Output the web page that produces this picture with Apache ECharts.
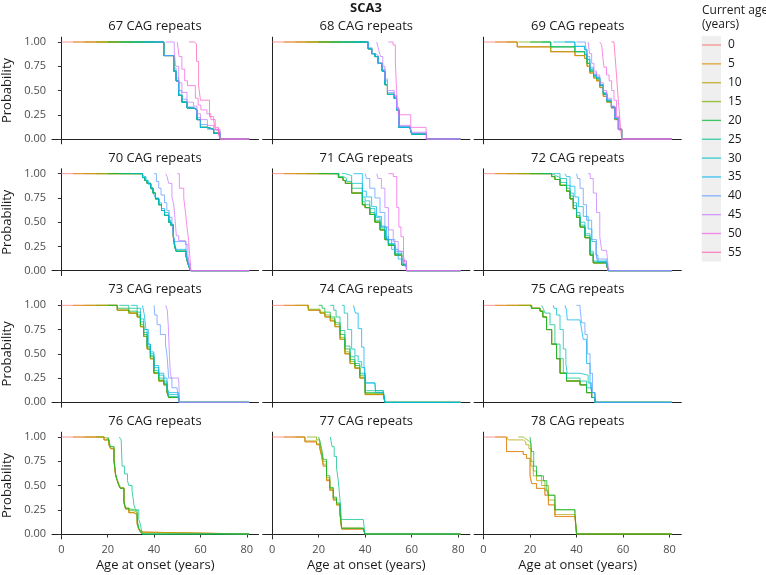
<!DOCTYPE html>
<html><head><meta charset="utf-8">
<script src="https://cdn.jsdelivr.net/npm/echarts@6/dist/echarts.min.js"></script>
<style>html,body{margin:0;padding:0;background:#fff}#c{width:766px;height:575px}</style>
</head><body><div id="c"></div>
<script>
const AGES = [0,5,10,15,20,25,30,35,40,45,50,55];
const AGE_COLORS = ['#F8766D','#DE8C00','#B79F00','#7CAE00','#00BA38','#00C08B','#00BFC4','#00B4F0','#619CFF','#C77CFF','#F564E3','#FF64B0'];
const PANEL_TITLES = ['67 CAG repeats','68 CAG repeats','69 CAG repeats','70 CAG repeats','71 CAG repeats','72 CAG repeats','73 CAG repeats','74 CAG repeats','75 CAG repeats','76 CAG repeats','77 CAG repeats','78 CAG repeats'];
const X_TICKS = [0,20,40,60,80];
const Y_TICKS = [0,0.25,0.5,0.75,1];

// Each entry: [current ages sharing this curve, step points [age at onset, probability]]
const CAG67 = [
 [[0,5,10,15,20,25,30,35],[[0,1],[44.2,0.86],[48.5,0.7],[49.5,0.6],[50.6,0.45],[52,0.38],[54.2,0.32],[57,0.3],[58.5,0.2],[60,0.12],[63,0.1],[65.7,0.06],[68.5,0],[81,0]]],
 [[40],[[40,1],[44.2,0.86],[48.5,0.73],[49.5,0.63],[50.6,0.5],[52,0.41],[54.2,0.33],[57,0.31],[58.5,0.22],[60,0.15],[63,0.1],[65.7,0.08],[68.5,0],[81,0]]],
 [[45],[[45,1],[48.7,0.9],[49.3,0.75],[50.6,0.58],[52,0.48],[54.2,0.38],[57,0.34],[58.5,0.26],[60,0.2],[63,0.14],[65.7,0.1],[68.5,0],[81,0]]],
 [[50],[[50,1],[50.8,0.85],[52,0.72],[53.2,0.6],[54.4,0.55],[57.8,0.42],[59,0.35],[60.2,0.3],[62.8,0.26],[64.5,0.2],[66.4,0.12],[67.8,0.05],[68.5,0],[81,0]]],
 [[55],[[55,1],[57.3,0.98],[58.3,0.8],[59.2,0.55],[60,0.4],[63.9,0.23],[65.7,0.19],[66.4,0.1],[67.8,0.05],[68.5,0],[81,0]]]
];
const CAG68 = [
 [[0,5,10,15,20,25,30,35],[[0,1],[41.3,0.93],[42.8,0.88],[44.2,0.85],[45.6,0.78],[47.3,0.7],[48.5,0.56],[49.6,0.46],[52.5,0.42],[53.5,0.3],[54.5,0.12],[59.3,0.1],[60,0.05],[66.4,0],[81,0]]],
 [[40],[[40,1],[41.5,0.94],[43,0.88],[44.2,0.86],[45.6,0.78],[47.3,0.72],[48.5,0.6],[49.6,0.48],[52.5,0.44],[53.5,0.32],[54.5,0.13],[59.3,0.1],[60,0.06],[66.4,0],[81,0]]],
 [[45],[[45,1],[45.8,0.92],[46.6,0.85],[47.6,0.75],[48.5,0.62],[49.6,0.5],[52.5,0.45],[53.5,0.32],[54.5,0.14],[59.3,0.12],[60,0.07],[66.4,0],[81,0]]],
 [[50],[[50,1],[52,0.97],[53,0.8],[53.5,0.5],[54.3,0.25],[59.6,0.12],[66.2,0],[81,0]]]
];
const CAG69 = [
 [[0,5,10],[[0,1],[14.5,0.95],[28.9,0.9],[39.3,0.86],[43.5,0.83],[44.5,0.75],[45.7,0.68],[47.3,0.63],[48.6,0.6],[50,0.53],[51.5,0.44],[53,0.38],[55,0.32],[56.5,0.2],[58,0.1],[59.4,0],[81,0]]],
 [[15,20,25],[[15,1],[28.9,0.95],[39.3,0.9],[43.5,0.87],[44.5,0.78],[45.7,0.7],[47.3,0.65],[48.6,0.62],[50,0.55],[51.5,0.46],[53,0.39],[55,0.33],[56.5,0.21],[58,0.1],[59.4,0],[81,0]]],
 [[30,35],[[30,1],[39.3,0.955],[43.5,0.92],[44.5,0.82],[45.7,0.72],[47.3,0.66],[48.6,0.63],[50,0.56],[51.5,0.47],[53,0.4],[55,0.33],[56.5,0.21],[58,0.1],[59.4,0],[81,0]]],
 [[40],[[40,1],[43.8,0.97],[44.5,0.85],[45.7,0.74],[47.3,0.68],[48.6,0.64],[50,0.56],[51.5,0.48],[53,0.4],[55,0.33],[56.5,0.22],[58,0.1],[59.4,0],[81,0]]],
 [[45],[[45,1],[45.6,0.88],[46.5,0.78],[47.5,0.7],[48.6,0.66],[50,0.58],[51.5,0.5],[53,0.42],[55,0.34],[56.5,0.22],[58,0.1],[59.4,0],[81,0]]],
 [[50],[[50,1],[50.8,0.97],[51.5,0.8],[51.8,0.74],[52.9,0.66],[54,0.6],[55.1,0.5],[56.1,0.4],[57.2,0.23],[58.4,0.09],[59.4,0],[81,0]]],
 [[55],[[55,1],[56.1,0.98],[56.6,0.85],[57.2,0.65],[57.8,0.45],[58.4,0.28],[58.9,0.12],[59.4,0],[81,0]]]
];
const CAG70 = [
 [[0,5,10,15,20,25,30],[[0,1],[35,0.96],[36,0.93],[37,0.9],[38.5,0.85],[39.5,0.8],[40.6,0.74],[42,0.68],[43.2,0.62],[44.5,0.57],[46.3,0.5],[47.2,0.47],[48.3,0.35],[48.9,0.25],[49.5,0.2],[53.8,0.15],[54.5,0.08],[55.2,0.03],[55.8,0],[81,0]]],
 [[35],[[35,1],[35.5,0.97],[36.5,0.93],[37.5,0.89],[38.8,0.84],[39.8,0.79],[40.6,0.75],[42,0.7],[43.2,0.64],[44.5,0.6],[46.3,0.52],[47.2,0.48],[48.3,0.37],[48.9,0.28],[49.5,0.22],[53.8,0.18],[54.5,0.1],[55.2,0.04],[55.8,0],[81,0]]],
 [[40],[[40,1],[41,0.92],[42,0.85],[43,0.78],[44.5,0.7],[45.5,0.62],[46.5,0.55],[47.7,0.48],[48.4,0.35],[49,0.3],[53.8,0.2],[54.5,0.12],[55.2,0.05],[55.8,0],[81,0]]],
 [[45],[[45,1],[45.6,0.97],[46.3,0.9],[47.7,0.76],[48.5,0.68],[49.2,0.48],[49.6,0.36],[50.6,0.31],[53.5,0.27],[54.6,0.16],[55.2,0.07],[55.6,0],[81,0]]],
 [[50],[[50,1],[50.9,0.85],[52.8,0.75],[53.5,0.61],[54.2,0.45],[54.9,0.31],[55.3,0.18],[55.9,0],[81,0]]]
];
const CAG71 = [
 [[0,5,10,15,20],[[0,1],[28.5,0.96],[30.5,0.93],[31.5,0.9],[34.2,0.8],[38.8,0.68],[40,0.65],[42,0.58],[44.2,0.5],[46.4,0.42],[48.5,0.32],[50,0.26],[52.8,0.16],[55.7,0.06],[57.8,0],[81,0]]],
 [[25],[[25,1],[28.8,0.97],[30.8,0.95],[32,0.92],[34.2,0.85],[38.8,0.71],[40,0.68],[42,0.6],[44.2,0.52],[46.4,0.44],[48.5,0.33],[50,0.27],[52.8,0.17],[55.7,0.06],[57.8,0],[81,0]]],
 [[30],[[30,1],[31.5,0.98],[34.2,0.9],[38.8,0.76],[40,0.72],[42,0.64],[44.2,0.55],[46.4,0.46],[48.5,0.35],[50,0.28],[52.8,0.18],[55.7,0.07],[57.8,0],[81,0]]],
 [[35],[[35,1],[38.8,0.82],[40.5,0.76],[42.8,0.66],[44.9,0.56],[47,0.45],[49.2,0.32],[51.4,0.22],[54.2,0.12],[56.4,0.05],[57.8,0],[81,0]]],
 [[40],[[40,1],[40.6,0.95],[42,0.85],[44.2,0.75],[46.4,0.6],[48.5,0.45],[50,0.32],[52.8,0.2],[55.7,0.1],[57.8,0],[81,0]]],
 [[45],[[45,1],[45.6,0.95],[47,0.85],[48.5,0.65],[50,0.42],[52.1,0.3],[54.2,0.2],[56.4,0.1],[57.8,0],[81,0]]],
 [[50],[[50,1],[52.1,0.97],[53.6,0.65],[54.5,0.45],[55.4,0.35],[56.5,0.15],[57.1,0.08],[57.8,0],[81,0]]]
];
const CAG72 = [
 [[0,5,10,15,20],[[0,1],[29.3,0.97],[30.7,0.94],[32.9,0.88],[35.7,0.82],[37.2,0.74],[38.6,0.64],[40,0.55],[41.5,0.45],[43.6,0.34],[45.8,0.16],[47.2,0.08],[53,0.05],[53.6,0],[81,0]]],
 [[25],[[25,1],[29.5,0.98],[31,0.96],[32.9,0.91],[35.7,0.85],[37.2,0.77],[38.6,0.67],[40,0.57],[41.5,0.47],[43.6,0.36],[45.8,0.18],[47.2,0.09],[53,0.06],[53.6,0],[81,0]]],
 [[30],[[30,1],[32.9,0.95],[35.7,0.88],[37.2,0.8],[38.6,0.7],[40,0.6],[41.5,0.5],[43.6,0.38],[45.8,0.2],[47.2,0.1],[53,0.07],[53.6,0],[81,0]]],
 [[35],[[35,1],[35.7,0.97],[37.2,0.87],[39.3,0.76],[40.8,0.66],[42.9,0.56],[45,0.43],[46.6,0.3],[48.3,0.16],[49.2,0.09],[53,0.07],[53.6,0],[81,0]]],
 [[40],[[40,1],[40.5,0.95],[41.5,0.85],[42.9,0.68],[44.3,0.52],[46.5,0.32],[48.6,0.12],[53,0.08],[53.6,0],[81,0]]],
 [[45],[[45,1],[45.9,0.95],[47.2,0.8],[48.6,0.6],[50,0.35],[50.8,0.21],[52.9,0.2],[53.6,0.05],[54,0],[81,0]]]
];
const CAG73 = [
 [[0,5,10,15],[[0,1],[24.1,0.95],[29.1,0.92],[32.7,0.88],[34.1,0.78],[35.5,0.68],[37,0.55],[38.4,0.45],[39.9,0.3],[42,0.22],[44.2,0.18],[45.6,0.1],[46.3,0.05],[50.6,0.05],[51,0],[81,0]]],
 [[20],[[20,1],[24.1,0.97],[29.1,0.94],[32.7,0.9],[34.1,0.8],[35.5,0.7],[37,0.57],[38.4,0.47],[39.9,0.31],[42,0.23],[44.2,0.19],[45.6,0.11],[46.3,0.05],[50.6,0.05],[51,0],[81,0]]],
 [[25],[[25,1],[29.1,0.97],[32.7,0.93],[34.1,0.83],[35.5,0.72],[37,0.58],[38.4,0.48],[39.9,0.33],[42,0.25],[44.2,0.2],[45.6,0.12],[46.3,0.06],[50.6,0.05],[51,0],[81,0]]],
 [[30],[[30,1],[32.7,0.97],[34.1,0.86],[35.5,0.75],[37,0.6],[38.4,0.5],[39.9,0.36],[42,0.28],[44.2,0.22],[45.6,0.15],[46.3,0.08],[50.6,0.05],[51,0],[81,0]]],
 [[35],[[35,1],[35.8,0.9],[36.5,0.75],[37.5,0.6],[38.4,0.52],[39.9,0.38],[42,0.3],[44.2,0.25],[45.6,0.15],[46.3,0.1],[50.6,0.05],[51,0],[81,0]]],
 [[40],[[40,1],[40.3,0.9],[41.3,0.8],[42.7,0.7],[44.9,0.6],[45.6,0.48],[46.3,0.25],[47.7,0.15],[49.9,0.13],[50.6,0],[81,0]]],
 [[45],[[45,1],[45.7,0.95],[46.1,0.8],[46.6,0.5],[47,0.3],[47.5,0.25],[50.6,0.25],[51,0],[81,0]]]
];
const CAG74 = [
 [[0,5,10],[[0,1],[15.6,0.95],[20.6,0.92],[22.7,0.88],[25,0.84],[27,0.78],[29.2,0.65],[31.3,0.5],[33.5,0.4],[35.6,0.35],[37.7,0.25],[40,0.08],[47.8,0.07],[48.5,0],[81,0]]],
 [[15],[[15,1],[15.6,0.96],[20.6,0.93],[22.7,0.9],[25,0.86],[27,0.8],[29.2,0.67],[31.3,0.52],[33.5,0.42],[35.6,0.36],[37.7,0.26],[40,0.09],[47.8,0.08],[48.5,0],[81,0]]],
 [[20],[[20,1],[21.5,0.97],[22.7,0.93],[25,0.88],[27,0.82],[29.2,0.7],[31.3,0.55],[33.5,0.44],[35.6,0.38],[37.7,0.28],[40,0.1],[47.8,0.08],[48.5,0],[81,0]]],
 [[25],[[25,1],[26.5,0.95],[27.5,0.88],[29.2,0.74],[31.3,0.58],[33.5,0.47],[35.6,0.4],[37.7,0.3],[40,0.12],[47.8,0.1],[48.5,0],[81,0]]],
 [[30],[[30,1],[31,0.92],[32.5,0.75],[34.2,0.55],[35.6,0.48],[37,0.42],[38.5,0.36],[39.9,0.2],[44.2,0.2],[44.5,0.12],[47.8,0.1],[48.5,0],[81,0]]],
 [[35],[[35,1],[35.8,0.92],[37,0.76],[38.5,0.57],[39.5,0.37],[40.2,0.2],[44.2,0.2],[44.5,0.1],[47.8,0.1],[48.5,0],[81,0]]]
];
const CAG75 = [
 [[0,5,10,15,20],[[0,1],[20.7,0.97],[24.3,0.94],[25.5,0.88],[27.1,0.75],[29.3,0.6],[31.4,0.45],[32.9,0.3],[35.7,0.22],[41.5,0.18],[44.3,0.1],[46.5,0.05],[47.9,0],[81,0]]],
 [[25],[[25,1],[25.8,0.96],[26.4,0.92],[28.6,0.8],[30.7,0.6],[32.9,0.45],[34.3,0.3],[35.7,0.25],[41.5,0.22],[44.3,0.15],[46.5,0.05],[47.9,0],[81,0]]],
 [[30],[[30,1],[30.3,0.97],[31.4,0.9],[32.9,0.75],[34.3,0.55],[35.4,0.4],[36,0.3],[41.5,0.28],[45,0.2],[46.5,0.1],[47.9,0],[81,0]]],
 [[35],[[35,1],[35.7,0.95],[36,0.85],[41.5,0.83],[42.2,0.75],[42.9,0.65],[44.3,0.4],[45.8,0.2],[46.5,0.1],[47.9,0],[81,0]]],
 [[40],[[40,1],[41.5,0.97],[42.2,0.82],[43.6,0.7],[44.6,0.5],[45.8,0.3],[46.9,0.1],[47.9,0],[81,0]]]
];
const CAG76 = [
 [[0,5,10],[[0,1],[18.4,0.97],[20.5,0.92],[21.2,0.88],[22.7,0.75],[23.4,0.6],[24.1,0.55],[24.8,0.5],[25.5,0.47],[27,0.32],[27.7,0.26],[29.1,0.22],[31.3,0.2],[32.7,0.1],[33.4,0.05],[34.1,0.02],[34.8,0],[81,0]]],
 [[15],[[15,1],[18.4,0.98],[20.5,0.93],[21.2,0.9],[22.7,0.77],[23.4,0.62],[24.1,0.56],[24.8,0.52],[25.5,0.48],[27,0.34],[27.7,0.27],[29.1,0.24],[31.3,0.22],[32.7,0.12],[33.4,0.05],[34.1,0.03],[34.8,0],[81,0]]],
 [[20],[[20,1],[20.6,0.95],[21.2,0.9],[22.7,0.76],[23.4,0.62],[24.1,0.55],[24.8,0.5],[25.5,0.47],[27,0.33],[27.7,0.26],[29.1,0.25],[31.3,0.24],[32.7,0.15],[33.4,0.06],[34.1,0.03],[34.8,0],[81,0]]],
 [[25],[[25,1],[25.8,0.97],[26.2,0.7],[27.2,0.62],[28.5,0.55],[29.1,0.5],[30.5,0.45],[31.3,0.3],[32,0.25],[33.4,0.15],[34.1,0.1],[34.8,0],[81,0]]]
];
const CAG77 = [
 [[0,5],[[0,1],[14.1,0.95],[19.1,0.92],[20.5,0.88],[21.3,0.8],[22,0.7],[23.4,0.55],[24.8,0.45],[26.3,0.35],[27.7,0.3],[29.2,0.2],[29.9,0.05],[39.2,0.05],[39.9,0],[81,0]]],
 [[10],[[10,1],[14.1,0.96],[19.1,0.93],[20.5,0.89],[21.3,0.82],[22,0.72],[23.4,0.56],[24.8,0.46],[26.3,0.36],[27.7,0.3],[29.2,0.21],[29.9,0.06],[39.2,0.06],[39.9,0],[81,0]]],
 [[15],[[15,1],[19.1,0.97],[20.5,0.92],[21.3,0.85],[22,0.75],[23.4,0.58],[24.8,0.47],[26.3,0.37],[27.7,0.31],[29.2,0.22],[29.9,0.06],[39.2,0.06],[39.9,0],[81,0]]],
 [[20],[[20,1],[20.5,0.96],[21.3,0.88],[22,0.77],[23.4,0.6],[24.8,0.48],[26.3,0.38],[27.7,0.32],[29.2,0.23],[29.9,0.06],[39.2,0.06],[39.9,0],[81,0]]],
 [[25],[[25,1],[25.8,0.9],[26.7,0.8],[27.7,0.68],[28.4,0.56],[29.2,0.35],[29.8,0.15],[39.2,0.15],[39.9,0],[81,0]]]
];
const CAG78 = [
 [[0,5],[[0,1],[9.9,0.85],[17.1,0.82],[18.5,0.78],[20,0.6],[20.7,0.52],[22.8,0.47],[26.4,0.4],[27.9,0.3],[30.7,0.18],[39.3,0.16],[40,0],[81,0]]],
 [[10],[[10,1],[10.7,0.97],[17.1,0.95],[18.2,0.92],[19.5,0.88],[20.4,0.7],[21.4,0.6],[22.8,0.55],[25,0.5],[26.4,0.45],[27.9,0.35],[30.7,0.2],[39.3,0.19],[40,0],[81,0]]],
 [[15],[[15,1],[17.1,0.98],[18.2,0.96],[19.5,0.94],[20.4,0.75],[21.4,0.65],[22.8,0.6],[25,0.55],[26.4,0.5],[27.9,0.4],[30.7,0.25],[39.3,0.2],[40,0],[81,0]]],
 [[20],[[20,1],[20.7,0.85],[21.6,0.7],[22.8,0.6],[25.8,0.55],[27.2,0.45],[27.9,0.4],[30.7,0.25],[39.3,0.22],[40,0],[81,0]]]
];
const PANELS = [CAG67,CAG68,CAG69,CAG70,CAG71,CAG72,CAG73,CAG74,CAG75,CAG76,CAG77,CAG78];

const FONT = '"Open Sans", sans-serif';
const G = {left0: 51.3, dx: 211.4, top0: 37.15, dy: 131.67, w: 207.2, h: 106.7};

function fromAge(pts, age) {
  let v = pts[0][1];
  for (const p of pts) if (p[0] <= age) v = p[1];
  return [[age, v]].concat(pts.filter(p => p[0] > age));
}

const grids = [], xAxes = [], yAxes = [], series = [], texts = [];
PANELS.forEach((panel, i) => {
  const row = Math.floor(i / 3), col = i % 3;
  const left = G.left0 + col * G.dx, top = G.top0 + row * G.dy;
  grids.push({left: left, top: top, width: G.w, height: G.h, containLabel: false});
  const bottom = row === 3, first = col === 0;
  xAxes.push({
    type: 'value', gridIndex: i, min: -4.05, max: 85.05,
    splitLine: {show: false},
    axisLine: {show: true, lineStyle: {color: '#222', width: 1}},
    axisTick: {show: bottom, customValues: X_TICKS, length: 3.5, lineStyle: {color: '#333'}},
    axisLabel: {show: bottom, customValues: X_TICKS, fontSize: 11, color: '#4D4D4D', fontFamily: FONT, margin: 5},
    name: bottom ? 'Age at onset (years)' : '', nameLocation: 'middle', nameGap: 20,
    nameTextStyle: {fontSize: 13, color: '#1A1A1A', fontFamily: FONT}
  });
  yAxes.push({
    type: 'value', gridIndex: i, min: -0.05, max: 1.05,
    splitLine: {show: false},
    axisLine: {show: true, lineStyle: {color: '#222', width: 1}},
    axisTick: {show: first, customValues: Y_TICKS, length: 3.5, lineStyle: {color: '#333'}},
    axisLabel: {show: first, customValues: Y_TICKS, fontSize: 11, color: '#4D4D4D', fontFamily: FONT, margin: 6,
      formatter: v => v.toFixed(2)},
    name: first ? 'Probability' : '', nameLocation: 'middle', nameGap: 38, nameRotate: 90,
    nameTextStyle: {fontSize: 13, color: '#1A1A1A', fontFamily: FONT}
  });
  texts.push({type: 'text', style: {text: PANEL_TITLES[i], x: left + G.w / 2, y: top - 11,
    textAlign: 'center', textVerticalAlign: 'middle', font: '13px ' + FONT, fill: '#1A1A1A'}});
  const curves = [];
  panel.forEach(([ages, pts]) => ages.forEach(a => curves.push({age: a, data: fromAge(pts, a)})));
  curves.sort((a, b) => a.age - b.age);
  curves.forEach(c => {
    const color = AGE_COLORS[AGES.indexOf(c.age)];
    series.push({
      type: 'line', name: String(c.age), xAxisIndex: i, yAxisIndex: i, data: c.data,
      step: 'end', showSymbol: false, symbol: 'none', silent: true, color: color,
      lineStyle: {color: color, width: 1, opacity: 0.75}, itemStyle: {color: color, opacity: 0.75}
    });
  });
});

texts.push({type: 'text', style: {text: 'SCA3', x: 366, y: 8, textAlign: 'center', textVerticalAlign: 'middle',
  font: 'bold 13px ' + FONT, fill: '#1A1A1A'}});
texts.push({type: 'text', style: {text: 'Current age', x: 702, y: 11, textAlign: 'left', textVerticalAlign: 'middle',
  font: '12px ' + FONT, fill: '#1A1A1A'}});
texts.push({type: 'text', style: {text: '(years)', x: 702, y: 25, textAlign: 'left', textVerticalAlign: 'middle',
  font: '12px ' + FONT, fill: '#1A1A1A'}});
texts.push({type: 'rect', z: -10, shape: {x: 701.7, y: 36, width: 19.3, height: 225.7}, style: {fill: '#EFEFEF'}});

const chart = echarts.init(document.getElementById('c'), null, {renderer: 'canvas'});
chart.setOption({
  animation: false,
  backgroundColor: '#fff',
  grid: grids, xAxis: xAxes, yAxis: yAxes, series: series,
  legend: {
    data: AGES.map(String), orient: 'vertical', left: 702, top: 39, padding: 0,
    itemWidth: 19, itemHeight: 12, itemGap: 6.85, icon: 'path://M0,0H20V1.4H0Z',
    selectedMode: false, itemStyle: {opacity: 0.75},
    textStyle: {fontSize: 12, color: '#1A1A1A', fontFamily: FONT, padding: [0, 0, 0, 2]}
  },
  graphic: texts
});
</script></body></html>
